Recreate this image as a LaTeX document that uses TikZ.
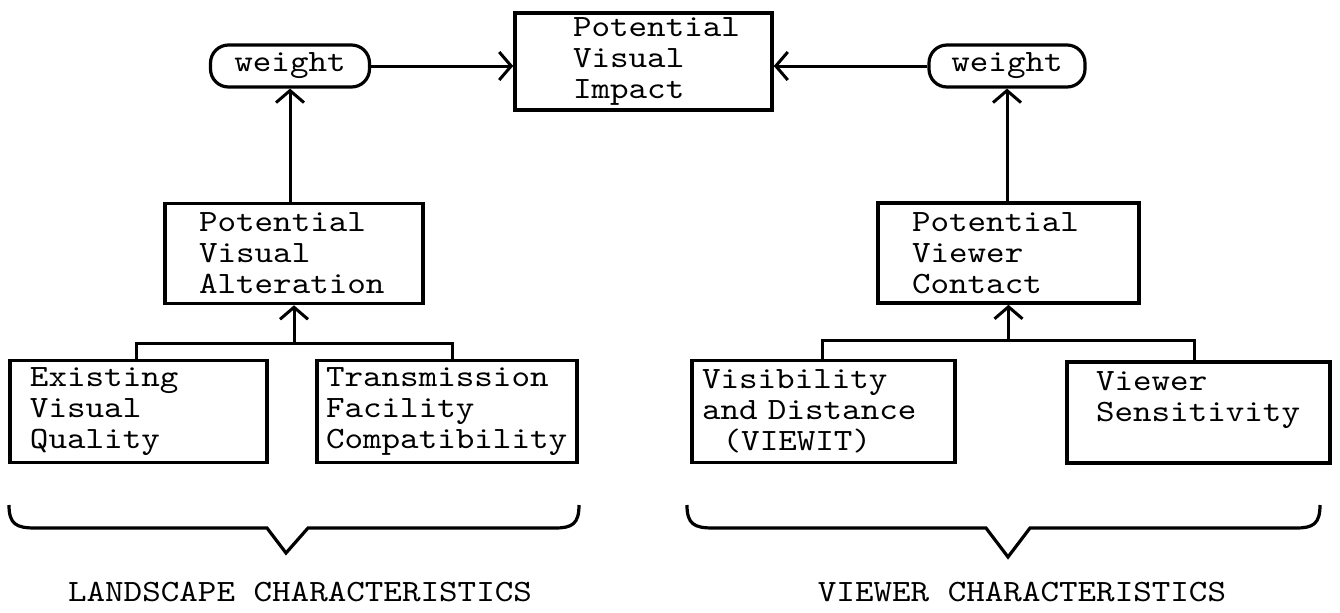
\documentclass[tikz,border=0pt]{standalone}
\usepackage{fontspec}
\usepackage{tikz}
\usetikzlibrary{positioning}
\usetikzlibrary{arrows.meta}
\newfontfamily\twfont[FakeStretch=1.14]{lmmono10-regular.otf}

\begin{document}
\begin{tikzpicture}[x=0.5pt,y=-0.5pt,
    >={Straight Barb[length=6pt,width=14pt]},
    every node/.style={font=\fontsize{15.5}{15.5}\selectfont\twfont},
    box/.style={draw,line width=1.8pt,align=left,inner ysep=0pt,minimum height=51pt},
    wt/.style={draw,line width=1.6pt,rounded corners=9pt,minimum width=79.5pt,minimum height=21pt,inner sep=0pt}]
    \useasboundingbox (0,0) rectangle (1340,612);

    \node[box,text width=70.5pt,inner xsep=29pt,minimum height=48.5pt] (imp) at (643.5,61.5) {Potential\\Visual\\Impact};
    \node[wt] (wl) at (290,66) {weight};
    \node[wt,minimum width=78pt] (wr) at (1007,66) {weight};

    \node[box,text width=95pt,inner xsep=17pt,minimum height=50pt] (alt) at (294,253.5) {Potential\\Visual\\Alteration};
    \node[box,text width=96.5pt,inner xsep=17pt,minimum height=50pt] (con) at (1008.5,253) {Potential\\Viewer\\Contact};

    \node[box,text width=108.5pt,inner xsep=10pt] (eq) at (138.5,411.5) {Existing\\Visual\\Quality};
    \node[box,text width=121pt,inner xsep=4.5pt] (tr) at (447,411.5) {Transmission\\Facility\\Compatibility};
    \node[box,text width=121.5pt,inner xsep=5pt] (vis) at (823.5,411.5) {Visibility\\and Distance\\\ \ (VIEWIT)};
    \node[box,text width=102.5pt,inner xsep=14.5pt,minimum height=50.5pt] (sens) at (1198.5,412.5) {Viewer\\Sensitivity\\\mbox{}};

    \draw[->,line width=1.5pt] (wl.east) -- (wl.east -| imp.west);
    \draw[->,line width=1.5pt] (wr.west) -- (wr.west -| imp.east);
    \draw[->,line width=1.5pt] (alt.north -| wl.south) -- (wl.south);
    \draw[->,line width=1.5pt] (con.north -| wr.south) -- (wr.south);

    \coordinate (bl) at (136,343);
    \coordinate (br) at (452,343);
    \draw[line width=1.5pt] (eq.north -| bl) -- (bl) -- (br) -- (tr.north -| br);
    \draw[->,line width=1.5pt] (alt.south |- bl) -- (alt.south);

    \coordinate (cl) at (822,340);
    \coordinate (cr) at (1194,340);
    \draw[line width=1.5pt] (vis.north -| cl) -- (cl) -- (cr) -- (sens.north -| cr);
    \draw[->,line width=1.5pt] (con.south |- cl) -- (con.south);

    \draw[line width=1.6pt] (9,505) .. controls (9,524) and (16,528) .. (35,528) -- (267,528) -- (286,553) -- (308,528) -- (555,528) .. controls (572,528) and (579,524) .. (579,505);
    \draw[line width=1.6pt] (687,505) .. controls (687,524) and (694,528) .. (713,528) -- (986,528) -- (1008,557) -- (1030,528) -- (1296,528) .. controls (1313,528) and (1320,524) .. (1320,505);

    \node (lland) at (300,592) {LANDSCAPE CHARACTERISTICS};
    \node (lview) at (1022,592) {VIEWER CHARACTERISTICS};
\end{tikzpicture}
\end{document}
